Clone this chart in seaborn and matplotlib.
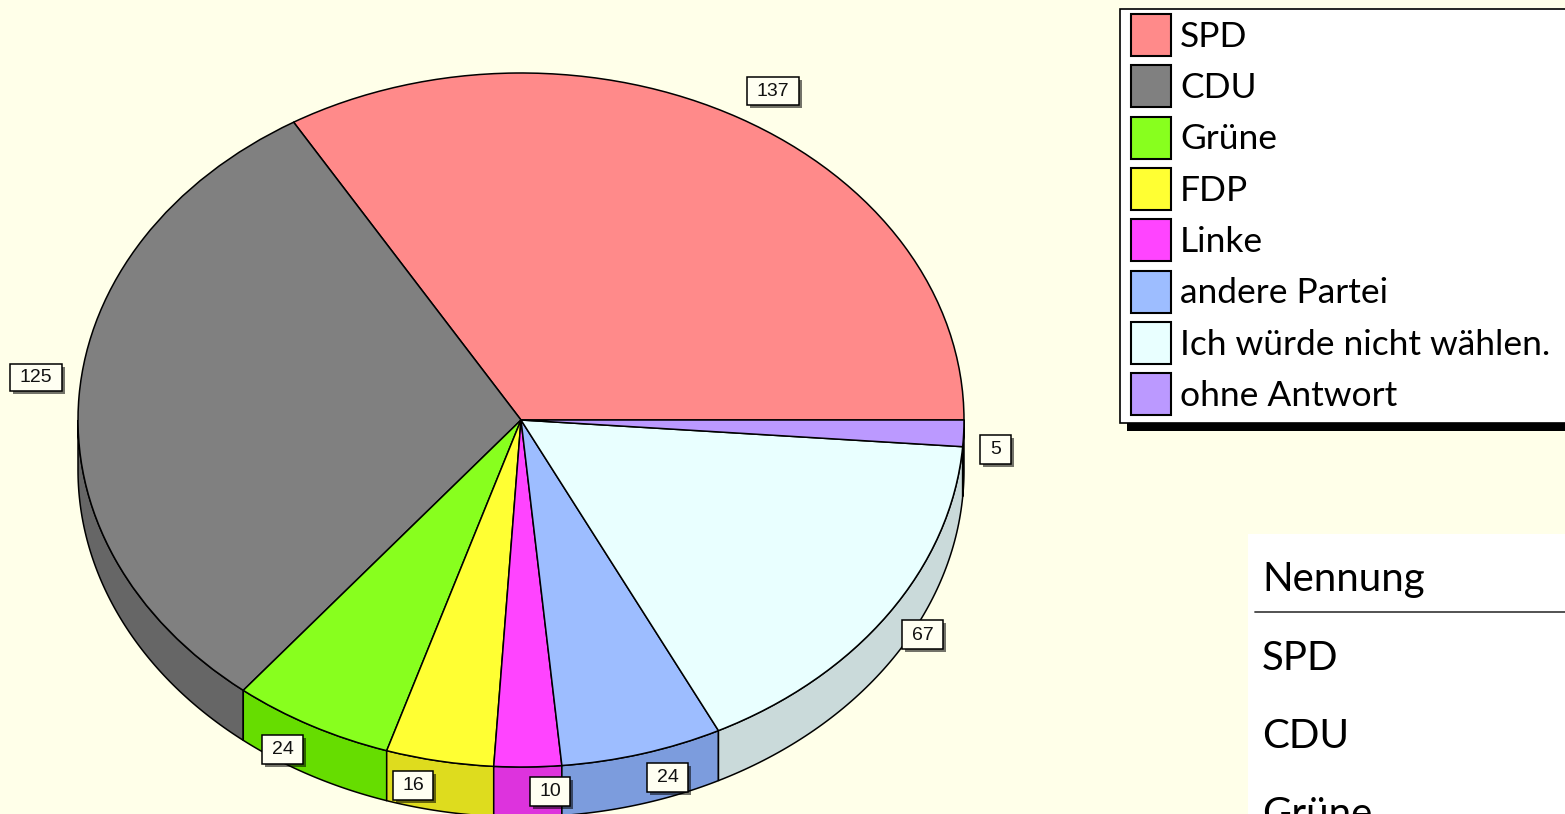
import numpy as np
import matplotlib
matplotlib.use("Agg")
import matplotlib.pyplot as plt
import matplotlib.patheffects as pe
from matplotlib.patches import Rectangle
import seaborn as sns

# Values
parties = ["SPD", "CDU", "Grüne", "FDP", "Linke", "andere Partei", "Ich würde nicht wählen.", "ohne Antwort"]
votes = [137, 125, 24, 16, 10, 24, 67, 5]
table_header = "Nennung"
table_rows = ["SPD", "CDU", "Grüne"]

# Colours
top_colors = ["#FF8A8A", "#808080", "#88FF1E", "#FFFF33", "#FF44FF", "#9DBDFF", "#E9FFFF", "#BB99FF"]
wall_colors = ["#D87070", "#666666", "#66DD00", "#DEDC1E", "#DD33DD", "#7C9CDD", "#CADADA", "#9A7CDD"]
bg = "#FFFFE9"

sns.set_theme(style="white", rc={"figure.facecolor": bg, "axes.facecolor": "none", "font.family": ["Lato", "DejaVu Sans"]})

W, H = 1565, 814
cx, cy, rx, ry, depth = 521, 420, 443, 347, 50

fig = plt.figure(figsize=(W / 100, H / 100), dpi=100)
ax = fig.add_axes([0, 0, 1, 1], zorder=1)

# Top of the pie, squashed by the axis limits
wedges, _ = ax.pie(votes, colors=top_colors, startangle=0, counterclock=True,
                   wedgeprops={"edgecolor": "black", "linewidth": 1.1, "zorder": 3})
ax.set_aspect("auto")
ax.set_xlim(-cx / rx, (W - cx) / rx)
ax.set_ylim((cy - H) / ry, cy / ry)
ax.axis("off")

# Side wall for the lower half of the pie
d = depth / ry
edges = np.concatenate([[0], np.cumsum(votes)]) / sum(votes) * 360
for a0, a1, col in zip(edges[:-1], edges[1:], wall_colors):
    lo, hi = max(a0, 180), min(a1, 360)
    if hi <= lo:
        continue
    t = np.radians(np.linspace(lo, hi, 80))
    xs = np.concatenate([np.cos(t), np.cos(t[::-1])])
    ys = np.concatenate([np.sin(t), np.sin(t[::-1]) - d])
    ax.fill(xs, ys, facecolor=col, edgecolor="black", linewidth=1.1, zorder=2)

# Overlay in pixel coordinates for legend, boxes and the cut off table
ov = fig.add_axes([0, 0, 1, 1], zorder=2)
ov.set_xlim(0, W)
ov.set_ylim(H, 0)
ov.axis("off")

# Value boxes: left, top, right, bottom
label_boxes = [(747, 77, 799, 105), (10, 364, 62, 391), (262, 735, 303, 764), (393, 771, 433, 800),
               (530, 777, 570, 806), (647, 763, 688, 792), (902, 620, 943, 649), (980, 435, 1011, 464)]
for v, (x0, y0, x1, y1) in zip(votes, label_boxes):
    r = Rectangle((x0, y0), x1 - x0, y1 - y0, facecolor="#FFFFF2", edgecolor="black", linewidth=1.1, zorder=5)
    r.set_path_effects([pe.SimplePatchShadow(offset=(2, -2), shadow_rgbFace="black", alpha=0.55), pe.Normal()])
    ov.add_patch(r)
    ov.text((x0 + x1) / 2, (y0 + y1) / 2 + 0.5, str(v), ha="center", va="center", fontsize=14,
            family="Liberation Sans", color="#111111", zorder=6)

# Legend box with its hard shadow, runs off the right edge
ov.add_patch(Rectangle((1127, 16), 600, 415, facecolor="black", edgecolor="none", zorder=3))
ov.add_patch(Rectangle((1120, 9), 600, 414, facecolor="white", edgecolor="black", linewidth=1.2, zorder=3.5))
leg = ov.legend(wedges, parties, loc="upper left", borderaxespad=0, borderpad=0,
                bbox_to_anchor=(1131 / W, (H - 14) / H), bbox_transform=fig.transFigure,
                fontsize=25.5, frameon=False, labelcolor="black",
                handlelength=1.13, handleheight=1.448, handletextpad=0.26, labelspacing=0.263)
leg.set_zorder(4)
for h in leg.legend_handles:
    h.set_edgecolor("black")
    h.set_linewidth(1.5)

# Table at the lower right
ov.add_patch(Rectangle((1248, 534), W - 1248, H - 534, facecolor="white", edgecolor="none", zorder=3))
ov.plot([1255, W], [612, 612], color="#444444", linewidth=1.3, zorder=4)
ov.text(1262, 579, table_header, fontsize=29, va="center", color="black", zorder=5)
for i, name in enumerate(table_rows):
    ov.text(1262, 658 + i * 78.5, name, fontsize=29, va="center", color="black", zorder=5)

fig.savefig("out.png", dpi=100, facecolor=bg)
